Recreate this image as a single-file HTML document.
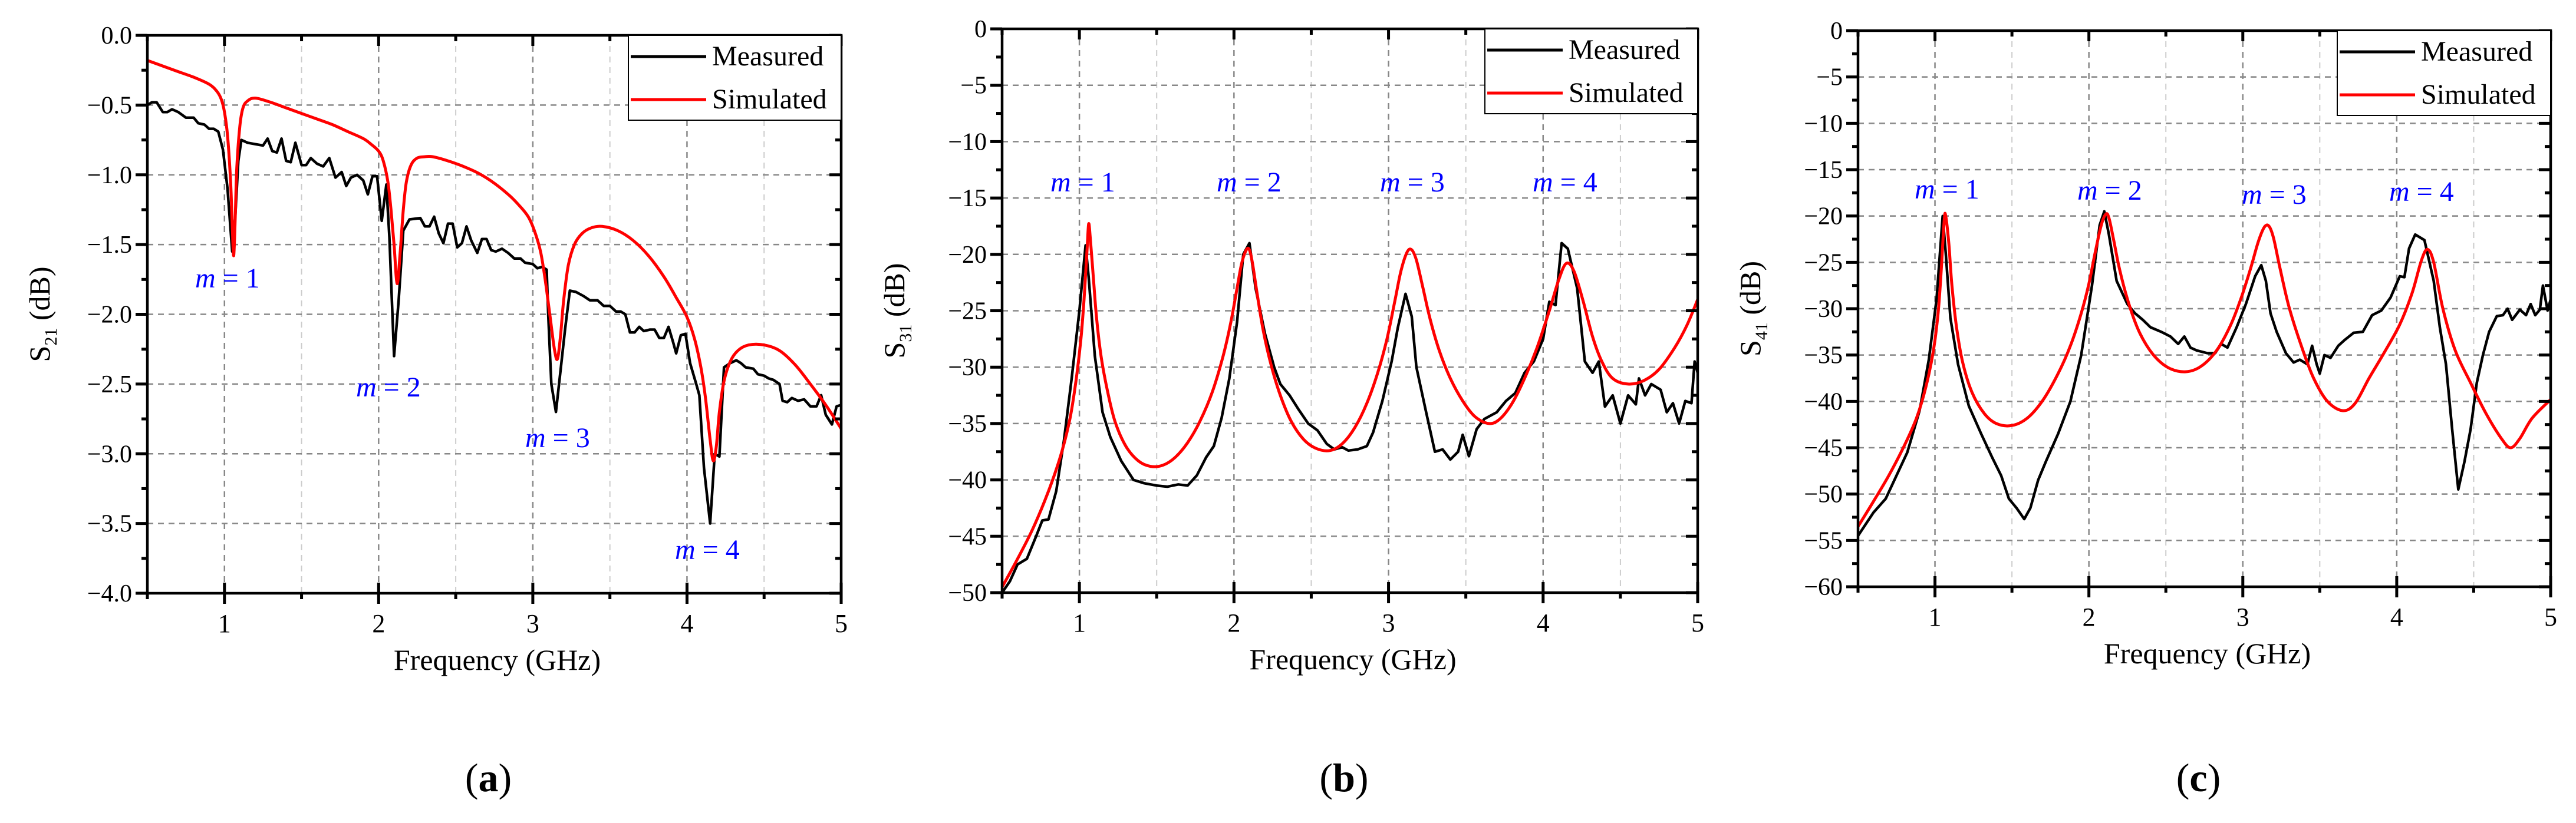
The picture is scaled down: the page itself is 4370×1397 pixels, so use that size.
<!DOCTYPE html>
<html><head><meta charset="utf-8"><style>
html,body{margin:0;padding:0;background:#fff;}
svg{display:block;}
text{font-family:"Liberation Serif",serif;}
</style></head>
<body>
<svg id="root" width="4370" height="1397" viewBox="0 0 4370 1397" xmlns="http://www.w3.org/2000/svg"></svg>
<script>
// ---- Panel (a) data ----
const aSimX=[0.5,0.6,0.7,0.8,0.9,0.95,0.98,1.0,1.02,1.04,1.05,1.06,1.07,1.08,1.1,1.12,1.15,1.2,1.3,1.4,1.5,1.6,1.7,1.8,1.9,1.95,2.0,2.03,2.06,2.08,2.1,2.12,2.14,2.16,2.18,2.21,2.25,2.3,2.35,2.45,2.55,2.65,2.75,2.85,2.92,2.97,3.01,3.05,3.08,3.11,3.14,3.16,3.18,3.2,3.23,3.27,3.32,3.38,3.45,3.55,3.65,3.75,3.85,3.93,4.0,4.05,4.09,4.12,4.15,4.17,4.19,4.21,4.24,4.28,4.33,4.4,4.5,4.6,4.7,4.8,4.9,5.0];
const aSimY=[-0.18,-0.22,-0.26,-0.3,-0.35,-0.4,-0.46,-0.55,-0.72,-1.05,-1.35,-1.58,-1.3,-0.95,-0.65,-0.52,-0.47,-0.45,-0.48,-0.52,-0.56,-0.6,-0.64,-0.69,-0.74,-0.78,-0.83,-0.9,-1.05,-1.25,-1.5,-1.78,-1.55,-1.25,-1.05,-0.93,-0.88,-0.87,-0.87,-0.9,-0.94,-0.99,-1.06,-1.15,-1.23,-1.3,-1.4,-1.55,-1.75,-2.0,-2.25,-2.32,-2.15,-1.9,-1.65,-1.5,-1.42,-1.38,-1.37,-1.4,-1.47,-1.58,-1.73,-1.88,-2.02,-2.18,-2.38,-2.6,-2.9,-3.05,-2.95,-2.7,-2.48,-2.34,-2.26,-2.22,-2.22,-2.26,-2.36,-2.5,-2.65,-2.82];
const aMeasX=[0.5,0.53,0.56,0.6,0.63,0.66,0.7,0.75,0.8,0.83,0.87,0.9,0.93,0.96,0.99,1.02,1.05,1.07,1.09,1.11,1.15,1.2,1.25,1.28,1.31,1.34,1.37,1.4,1.43,1.46,1.5,1.53,1.56,1.6,1.64,1.68,1.72,1.76,1.79,1.82,1.86,1.9,1.93,1.96,1.99,2.02,2.05,2.07,2.1,2.13,2.16,2.2,2.27,2.3,2.33,2.36,2.39,2.42,2.45,2.48,2.51,2.54,2.57,2.6,2.64,2.67,2.7,2.73,2.76,2.8,2.84,2.88,2.92,2.95,3.0,3.03,3.06,3.09,3.1,3.12,3.15,3.18,3.21,3.24,3.28,3.33,3.37,3.42,3.46,3.5,3.54,3.57,3.6,3.63,3.66,3.69,3.72,3.76,3.79,3.82,3.85,3.88,3.91,3.93,3.96,3.99,4.02,4.06,4.08,4.11,4.15,4.18,4.21,4.24,4.28,4.32,4.35,4.38,4.43,4.46,4.5,4.53,4.56,4.6,4.62,4.65,4.68,4.72,4.76,4.8,4.84,4.87,4.9,4.94,4.97,5.0];
const aMeasY=[-0.5,-0.48,-0.48,-0.55,-0.55,-0.53,-0.55,-0.59,-0.59,-0.63,-0.64,-0.67,-0.67,-0.69,-0.82,-1.1,-1.55,-1.3,-0.9,-0.75,-0.77,-0.78,-0.79,-0.74,-0.83,-0.84,-0.74,-0.9,-0.91,-0.77,-0.93,-0.93,-0.88,-0.92,-0.94,-0.88,-1.02,-0.98,-1.08,-1.02,-1.0,-1.04,-1.14,-1.01,-1.01,-1.33,-1.07,-1.45,-2.3,-1.9,-1.4,-1.32,-1.31,-1.37,-1.37,-1.3,-1.42,-1.49,-1.35,-1.35,-1.52,-1.49,-1.37,-1.47,-1.56,-1.46,-1.46,-1.54,-1.55,-1.53,-1.56,-1.6,-1.6,-1.63,-1.64,-1.67,-1.66,-1.68,-2.0,-2.5,-2.7,-2.4,-2.1,-1.83,-1.84,-1.87,-1.9,-1.9,-1.94,-1.94,-1.98,-1.98,-2.0,-2.13,-2.13,-2.09,-2.12,-2.11,-2.11,-2.17,-2.17,-2.09,-2.2,-2.28,-2.15,-2.14,-2.35,-2.5,-2.58,-3.1,-3.5,-3.0,-3.02,-2.38,-2.35,-2.33,-2.35,-2.38,-2.39,-2.43,-2.44,-2.46,-2.47,-2.5,-2.62,-2.63,-2.6,-2.62,-2.61,-2.66,-2.66,-2.58,-2.72,-2.79,-2.66,-2.65];
// ---- Panel (b) data ----
const bSimX=[0.5,0.6,0.7,0.8,0.88,0.94,0.98,1.01,1.03,1.05,1.06,1.07,1.09,1.11,1.14,1.18,1.23,1.3,1.38,1.46,1.54,1.62,1.7,1.78,1.86,1.93,1.98,2.02,2.05,2.08,2.1,2.12,2.15,2.19,2.24,2.3,2.37,2.45,2.53,2.62,2.7,2.78,2.86,2.93,2.99,3.04,3.08,3.12,3.15,3.18,3.22,3.27,3.33,3.4,3.48,3.56,3.65,3.72,3.8,3.88,3.96,4.04,4.1,4.15,4.2,4.26,4.32,4.38,4.45,4.55,4.65,4.75,4.85,4.93,5.0];
const bSimY=[-49.5,-47,-44.3,-41,-37.8,-34.5,-31,-27.5,-24,-19.5,-17.3,-18.5,-22,-25.5,-29,-32,-34.8,-37,-38.3,-38.8,-38.7,-38,-36.7,-34.8,-32.2,-29,-26,-23,-20.8,-19.6,-19.6,-20.8,-23.5,-26.8,-29.8,-32.5,-34.8,-36.4,-37.2,-37.4,-36.8,-35.4,-33.2,-30.5,-27.5,-24.2,-21.5,-19.8,-19.6,-20.5,-22.8,-25.8,-28.6,-31,-33,-34.4,-35,-34.6,-33.2,-31,-28.3,-25,-22.3,-20.8,-21.5,-24.2,-27.3,-29.5,-31,-31.5,-31.2,-30.2,-28.3,-26.3,-24]; 
const bMeasX=[0.5,0.55,0.6,0.66,0.72,0.76,0.8,0.85,0.9,0.95,1.0,1.04,1.06,1.1,1.15,1.2,1.27,1.35,1.42,1.5,1.57,1.64,1.7,1.76,1.82,1.87,1.92,1.97,2.02,2.06,2.1,2.14,2.2,2.26,2.3,2.36,2.42,2.48,2.54,2.6,2.65,2.7,2.74,2.8,2.86,2.9,2.96,3.02,3.06,3.11,3.15,3.18,3.24,3.3,3.35,3.4,3.45,3.48,3.52,3.57,3.62,3.7,3.76,3.82,3.88,3.94,4.0,4.04,4.08,4.12,4.16,4.22,4.27,4.32,4.36,4.4,4.45,4.5,4.55,4.6,4.62,4.66,4.7,4.76,4.8,4.84,4.88,4.92,4.96,4.98,5.0];
const bMeasY=[-50,-49,-47.5,-47,-45,-43.6,-43.5,-41,-36.5,-31,-25,-19.2,-22,-29,-34,-36.2,-38.3,-40,-40.3,-40.5,-40.6,-40.4,-40.5,-39.6,-38,-37,-34.5,-31,-26,-20,-19,-23,-27,-30,-31.5,-32.5,-33.8,-35,-35.6,-36.8,-37.3,-37.1,-37.4,-37.3,-37,-35.8,-33,-29.5,-26.5,-23.5,-25.5,-30,-33.8,-37.5,-37.3,-38.2,-37.5,-36,-37.9,-35.5,-34.6,-34,-33,-32.3,-30.5,-29.5,-27.5,-24.2,-24.5,-19,-19.5,-23,-29.5,-30.5,-29.5,-33.5,-32.5,-35,-32.5,-33.3,-31,-32.5,-31.5,-32,-34,-33.2,-35,-33,-33.2,-29.5,-30.5];
// ---- Panel (c) data ----
const cSimX=[0.5,0.6,0.7,0.8,0.88,0.94,0.99,1.02,1.04,1.06,1.07,1.09,1.11,1.14,1.18,1.24,1.32,1.4,1.5,1.6,1.7,1.8,1.88,1.95,2.0,2.04,2.08,2.11,2.13,2.16,2.2,2.26,2.33,2.42,2.52,2.63,2.73,2.83,2.92,2.99,3.05,3.1,3.14,3.17,3.2,3.24,3.3,3.38,3.46,3.55,3.65,3.73,3.82,3.92,4.02,4.1,4.16,4.2,4.24,4.3,4.38,4.48,4.58,4.68,4.74,4.8,4.88,5.0];
const cSimY=[-53.5,-50.8,-48,-44.8,-41.8,-38.5,-34.5,-30.5,-26,-20.5,-20,-23,-27.5,-32,-35.8,-39,-41.3,-42.4,-42.6,-41.8,-39.9,-37,-34,-30.5,-27.3,-24,-21,-19.8,-20.2,-22.5,-25.8,-29.5,-32.6,-35,-36.4,-36.8,-36.2,-34.5,-31.8,-28.8,-25.7,-22.8,-21.2,-21.1,-22.4,-25.5,-29.8,-34,-37.5,-40,-41,-40.2,-37.5,-34.7,-31.7,-28.3,-24.8,-23.6,-25,-30,-34.5,-38,-41.3,-44,-45,-44,-41.8,-39.8];
const cMeasX=[0.5,0.6,0.68,0.75,0.82,0.9,0.96,1.01,1.05,1.07,1.1,1.15,1.22,1.3,1.37,1.43,1.48,1.53,1.58,1.62,1.67,1.72,1.8,1.88,1.95,2.02,2.07,2.1,2.13,2.18,2.25,2.3,2.35,2.4,2.47,2.53,2.58,2.62,2.66,2.7,2.77,2.82,2.86,2.9,2.96,3.02,3.08,3.12,3.15,3.18,3.22,3.28,3.33,3.37,3.42,3.45,3.48,3.5,3.53,3.57,3.62,3.66,3.72,3.78,3.84,3.9,3.96,4.02,4.05,4.08,4.12,4.18,4.24,4.28,4.32,4.36,4.4,4.44,4.48,4.52,4.56,4.6,4.65,4.69,4.72,4.75,4.8,4.84,4.87,4.9,4.93,4.95,4.98,5.0];
const cMeasY=[-54.5,-52,-50.5,-48,-45.5,-41,-35.5,-29,-20,-24,-31,-36,-40.5,-43.5,-46,-48,-50.5,-51.5,-52.7,-51.5,-48.5,-46.5,-43.5,-40,-35,-27.5,-21,-19.5,-22,-27,-29.5,-30.5,-31.2,-32,-32.5,-33,-33.8,-33,-34.2,-34.5,-34.8,-34.8,-33.8,-34.2,-32,-29.5,-26.5,-25.3,-27,-30.5,-32.5,-34.8,-35.8,-35.5,-36,-34,-36,-37,-35,-35.3,-34,-33.4,-32.6,-32.5,-30.7,-30.2,-28.8,-26.5,-26.6,-23.5,-22,-22.6,-27,-32,-36,-43,-49.5,-46.5,-43,-38,-35,-32.5,-30.8,-30.7,-30,-31.2,-30.1,-30.7,-29.5,-30.7,-30.1,-27.5,-30.2,-29];
// ---- tick labels ----
const xTickLabels=["1","2","3","4","5"];
const aYTickLabels=["0.0","\u22120.5","\u22121.0","\u22121.5","\u22122.0","\u22122.5","\u22123.0","\u22123.5","\u22124.0"];
const bYTickLabels=["0","\u22125","\u221210","\u221215","\u221220","\u221225","\u221230","\u221235","\u221240","\u221245","\u221250"];
const cYTickLabels=["0","\u22125","\u221210","\u221215","\u221220","\u221225","\u221230","\u221235","\u221240","\u221245","\u221250","\u221255","\u221260"];

const NS="http://www.w3.org/2000/svg";
const root=document.getElementById('root');
function mk(tag,attrs,parent){const e=document.createElementNS(NS,tag);for(const k in attrs)e.setAttribute(k,attrs[k]);(parent||root).appendChild(e);return e;}

function panel(o){
  const g=mk('g',{});
  
  
  const L=o.L,R=o.R,T=o.T,B=o.B;
  const sx=v=>L+(v-0.5)/4.5*(R-L);
  const sy=v=>T+(o.ymax-v)/(o.ymax-o.ymin)*(B-T);
  for(let v=1;v<5;v+=0.5){
    const major=Number.isInteger(v);
    const l=mk('line',{x1:sx(v),x2:sx(v),y1:T,y2:B,stroke:major?'#888':'#ccc','stroke-width':major?2.5:2,'stroke-dasharray':'10,8'},g);
    
    
  }
  for(let i=1;i<o.yLabels.length-1;i++){
    const v=o.ymax-i*o.ystep;
    const l=mk('line',{x1:L,x2:R,y1:sy(v),y2:sy(v),stroke:'#888','stroke-width':2.5,'stroke-dasharray':'10,8'},g);
    
    
  }
  function line(xs,ys,color,w,name,smooth){
    const P=xs.map((x,i)=>[sx(x),sy(ys[i])]);
    let d='M'+P[0][0].toFixed(1)+','+P[0][1].toFixed(1);
    for(let i=0;i<P.length-1;i++){
      if(!smooth){d+='L'+P[i+1][0].toFixed(1)+','+P[i+1][1].toFixed(1);continue;}
      const p0=P[Math.max(0,i-1)],p1=P[i],p2=P[i+1],p3=P[Math.min(P.length-1,i+2)];
      const c1=[p1[0]+(p2[0]-p0[0])/6,p1[1]+(p2[1]-p0[1])/6];
      const c2=[p2[0]-(p3[0]-p1[0])/6,p2[1]-(p3[1]-p1[1])/6];
      d+='C'+c1[0].toFixed(1)+','+c1[1].toFixed(1)+' '+c2[0].toFixed(1)+','+c2[1].toFixed(1)+' '+p2[0].toFixed(1)+','+p2[1].toFixed(1);
    }
    const p=mk('path',{d:d,fill:'none',stroke:color,'stroke-width':w,'stroke-linejoin':'round'},g);
    
    
  }
  line(o.mx,o.my,'#000',4.5,'measured-line',false);
  line(o.sxs,o.sys,'#f00',5,'simulated-line',true);
  const fr=mk('rect',{x:L,y:T,width:R-L,height:B-T,fill:'none',stroke:'#000','stroke-width':4.5},g);
  
  
  for(let v=0.5;v<=5.001;v+=0.5){
    const major=Number.isInteger(v);
    const x=sx(v);
    mk('line',{x1:x,x2:x,y1:B-(major?18:0),y2:B+(major?18:10),stroke:'#000','stroke-width':5},g);
    mk('line',{x1:x,x2:x,y1:T,y2:T+(major?18:10),stroke:'#000','stroke-width':5},g);
  }
  xTickLabels.forEach((s,i)=>{
    const t=mk('text',{x:sx(i+1),y:B+66,'font-size':44,'text-anchor':'middle'},g);
    t.textContent=s;
    
    
  });
  const n=o.yLabels.length;
  for(let i=0;i<(n-1)*2+1;i++){
    const v=o.ymax-i*o.ystep/2;const y=sy(v);const major=i%2===0;
    mk('line',{x1:L-(major?20:10),x2:L,y1:y,y2:y,stroke:'#000','stroke-width':5},g);
    mk('line',{x1:R-(major?20:10),x2:R,y1:y,y2:y,stroke:'#000','stroke-width':5},g);
  }
  o.yLabels.forEach((s,i)=>{
    const t=mk('text',{x:L-26,y:sy(o.ymax-i*o.ystep)+14,'font-size':42,'text-anchor':'end'},g);
    t.textContent=s;
    
    
  });
  const xt=mk('text',{x:(L+R)/2+5,y:B+130,'font-size':50,'text-anchor':'middle'},g);
  xt.textContent='Frequency (GHz)';
  
  
  const yc=(T+B)/2;
  const yt=mk('text',{transform:`translate(${L-166},${yc}) rotate(-90)`,'font-size':50,'text-anchor':'middle'},g);
  yt.innerHTML='S<tspan font-size="30" dy="12">'+o.sub+'</tspan><tspan dy="-12"> (dB)</tspan>';
  
  
  const lg=mk('g',{},g);
  
  
  mk('rect',{x:o.lg[0],y:T,width:R-o.lg[0],height:o.lg[1],fill:'#fff',stroke:'#000','stroke-width':2},lg);
  [['Measured','#000'],['Simulated','#f00']].forEach((e,i)=>{
    const yy=T+36+i*73;
    const le=mk('g',{},lg);
    
    
    mk('line',{x1:o.lg[0]+4,x2:o.lg[0]+132,y1:yy,y2:yy,stroke:e[1],'stroke-width':5},le);
    const t=mk('text',{x:o.lg[0]+142,y:yy+15,'font-size':48},le);
    t.textContent=e[0];
  });
  o.modes.forEach((m,i)=>{
    const t=mk('text',{x:m[0],y:m[1],'font-size':48,fill:'#00f'},g);
    t.innerHTML='<tspan font-style="italic">m</tspan> = '+(i+1);
    
    
  });
  const cap=mk('text',{x:(L+R)/2-10,y:1343,'font-size':68,'text-anchor':'middle'},g);
  cap.innerHTML='(<tspan font-weight="bold">'+o.cap+'</tspan>)';
  
  
}

panel({name:'panel-a',L:250,R:1427,T:60,B:1007,ymax:0,ymin:-4,ystep:0.5,yLabels:aYTickLabels,sub:'21',
  mx:aMeasX,my:aMeasY,sxs:aSimX,sys:aSimY,lg:[1066,144],cap:'a',
  modes:[[331,488],[604,673],[891,759],[1145,949]]});
panel({name:'panel-b',L:1700,R:2880,T:49,B:1006,ymax:0,ymin:-50,ystep:5,yLabels:bYTickLabels,sub:'31',
  mx:bMeasX,my:bMeasY,sxs:bSimX,sys:bSimY,lg:[2519,144],cap:'b',
  modes:[[1782,325],[2064,325],[2341,325],[2600,325]]});
panel({name:'panel-c',L:3152,R:4327,T:52,B:996,ymax:0,ymin:-60,ystep:5,yLabels:cYTickLabels,sub:'41',
  mx:cMeasX,my:cMeasY,sxs:cSimX,sys:cSimY,lg:[3965,144],cap:'c',
  modes:[[3248,337],[3524,339],[3803,346],[4053,341]]});
</script>
</body></html>
